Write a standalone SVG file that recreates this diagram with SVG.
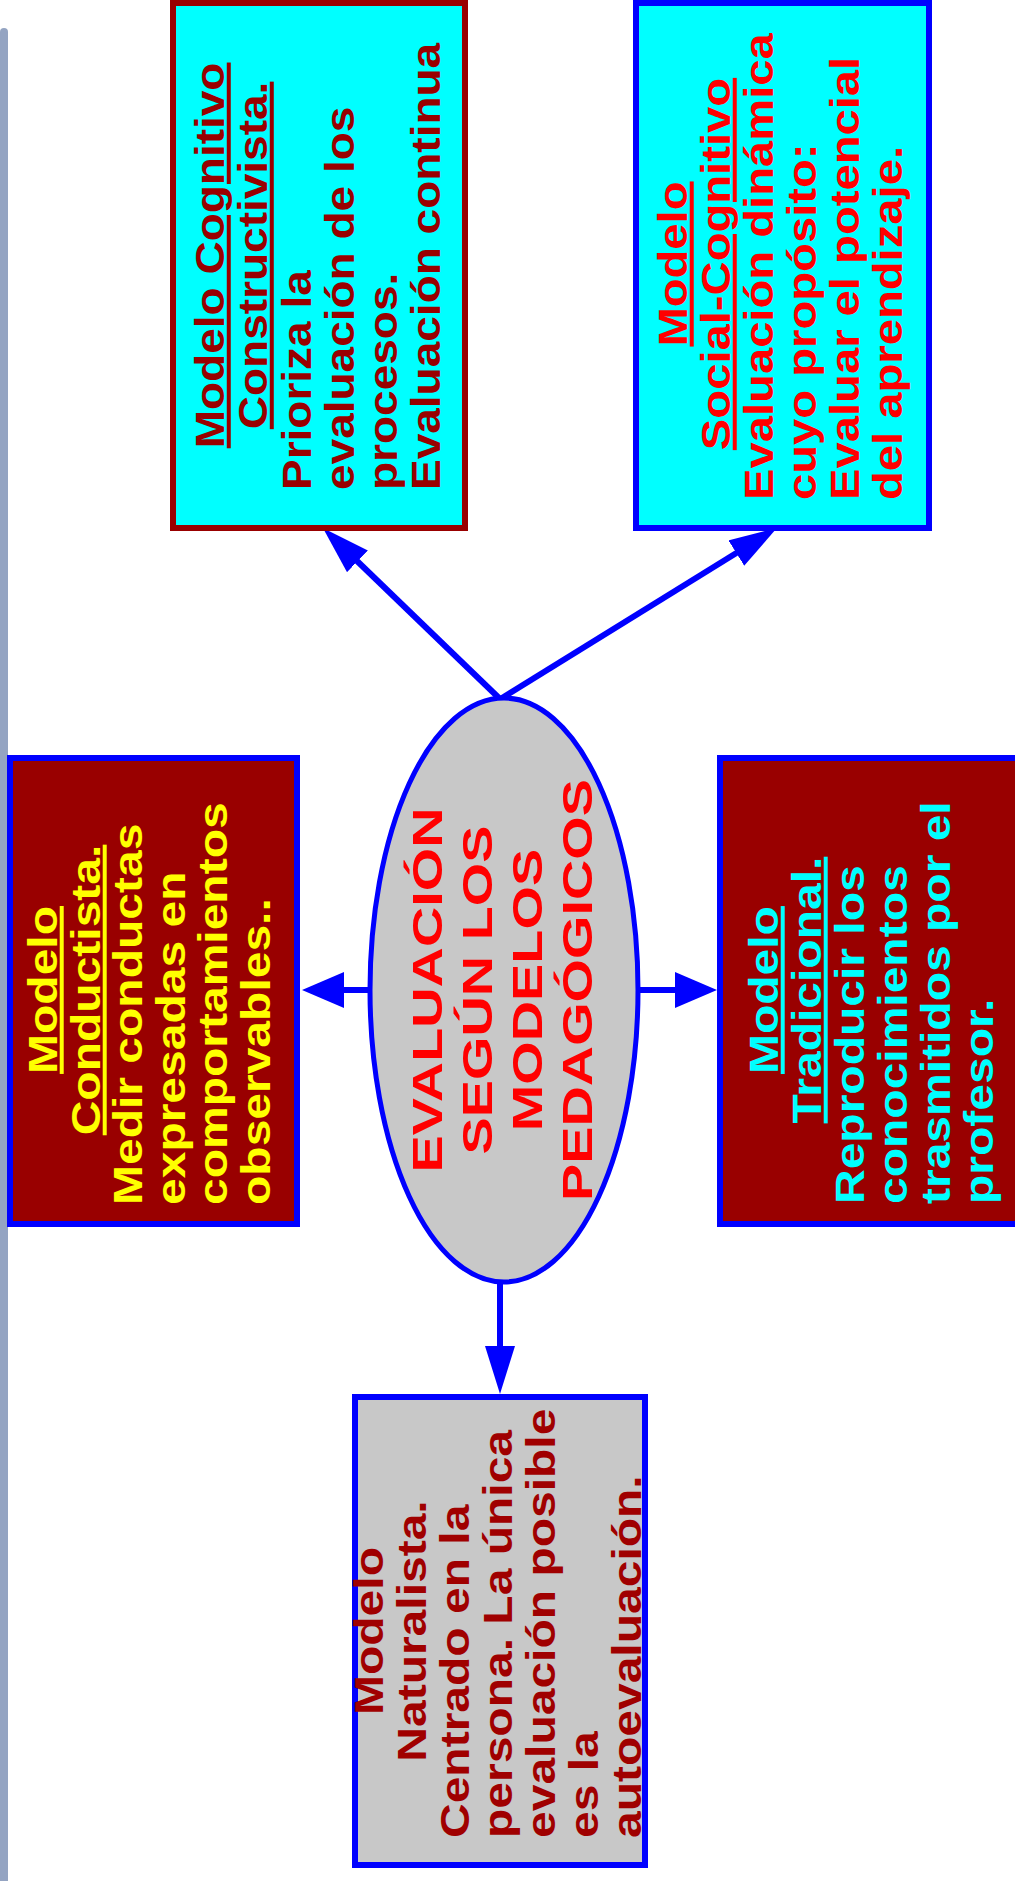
<svg xmlns="http://www.w3.org/2000/svg" width="1015" height="1881" viewBox="0 0 1015 1881">
<style>
.t{font-family:"Liberation Sans",Arial,Helvetica,sans-serif;font-weight:bold;font-size:40px}
.big{font-size:42px}
.u{text-decoration:underline}
.c{text-anchor:middle}
.box{stroke-width:6}
.con{stroke:#0000ff;stroke-width:6;fill:none}
</style>
<defs>
<marker id="ah" viewBox="0 0 42 36" markerWidth="42" markerHeight="36" refX="2" refY="18" orient="auto" markerUnits="userSpaceOnUse"><path d="M0,0 L42,18 L0,36 z" fill="#0000ff"/></marker>
<marker id="ahn" viewBox="0 0 48 30" markerWidth="48" markerHeight="30" refX="2" refY="15" orient="auto" markerUnits="userSpaceOnUse"><path d="M0,0 L48,15 L0,30 z" fill="#0000ff"/></marker>
</defs>
<rect width="1015" height="1881" fill="#ffffff"/>
<rect id="sidebar" x="0" y="28" width="8" height="1860" rx="4" fill="#94a4c2"/>

<g id="connectors">
<line class="con" x1="370" y1="990" x2="342" y2="990" marker-end="url(#ah)"/>
<line class="con" x1="638" y1="990" x2="677" y2="990" marker-end="url(#ah)"/>
<line class="con" x1="500" y1="1282" x2="500" y2="1348" marker-end="url(#ahn)"/>
<line class="con" x1="499" y1="698" x2="356" y2="560" marker-end="url(#ahn)"/>
<line class="con" x1="502" y1="698" x2="738" y2="552" marker-end="url(#ahn)"/>
</g>

<g id="cognitivo">
<rect class="box" x="173" y="3" width="292" height="525" fill="#00ffff" stroke="#990000"/>
<g class="t" fill="#990000" transform="translate(0,490) rotate(-90) scale(1.15,1)">
<text class="c u" x="204" y="224">Modelo Cognitivo</text>
<text class="c u" x="204" y="267">Constructivista.</text>
<text x="0" y="311">Prioriza la</text>
<text x="0" y="354">evaluación de los</text>
<text x="0" y="397">procesos.</text>
<text x="0" y="440">Evaluación continua</text>
</g>
</g>

<g id="social">
<rect class="box" x="636" y="3" width="293" height="525" fill="#00ffff" stroke="#0000ff"/>
<g class="t" fill="#ff0000" transform="translate(0,500) rotate(-90) scale(1.18,1)">
<text class="c u" x="200" y="687">Modelo</text>
<text class="c u" x="200" y="730">Social-Cognitivo</text>
<text x="0" y="773">Evaluación dinámica</text>
<text x="0" y="816">cuyo propósito:</text>
<text x="0" y="859">Evaluar el potencial</text>
<text x="0" y="902">del aprendizaje.</text>
</g>
</g>

<g id="conductista">
<rect class="box" x="10" y="758" width="287" height="466" fill="#990000" stroke="#0000ff"/>
<g class="t" fill="#ffff00" transform="translate(0,1205) rotate(-90) scale(1.2,1)">
<text class="c u" x="179.2" y="57">Modelo</text>
<text class="c u" x="179.2" y="100">Conductista.</text>
<text x="0" y="142">Medir conductas</text>
<text x="0" y="185">expresadas en</text>
<text x="0" y="227">comportamientos</text>
<text x="0" y="270">observables..</text>
</g>
</g>

<g id="tradicional">
<rect class="box" x="720" y="758" width="300" height="466" fill="#990000" stroke="#0000ff"/>
<g class="t" fill="#00ffff" transform="translate(0,1204) rotate(-90) scale(1.2,1)">
<text class="c u" x="178.3" y="778">Modelo</text>
<text class="c u" x="178.3" y="821">Tradicional.</text>
<text x="0" y="864">Reproducir los</text>
<text x="0" y="907">conocimientos</text>
<text x="0" y="950">trasmitidos por el</text>
<text x="0" y="993">profesor.</text>
</g>
</g>

<g id="naturalista">
<rect class="box" x="355" y="1397" width="290" height="468" fill="#c8c8c8" stroke="#0000ff"/>
<g class="t" fill="#a00000" transform="translate(0,1838) rotate(-90) scale(1.2,1)">
<text class="c" x="172.5" y="383">Modelo</text>
<text class="c" x="172.5" y="426">Naturalista.</text>
<text x="0" y="469">Centrado en la</text>
<text x="0" y="512">persona. La única</text>
<text x="0" y="555">evaluación posible</text>
<text x="0" y="598">es la</text>
<text x="0" y="641">autoevaluación.</text>
</g>
</g>

<g id="central">
<ellipse cx="504" cy="990" rx="134" ry="292" fill="#c8c8c8" stroke="#0000ff" stroke-width="5"/>
<g class="t big c" fill="#ff0000" transform="translate(0,990) rotate(-90) scale(1.33,1)">
<text x="0" y="442">EVALUACIÓN</text>
<text x="0" y="492">SEGÚN LOS</text>
<text x="0" y="542">MODELOS</text>
<text x="0" y="592">PEDAGÓGICOS</text>
</g>
</g>
</svg>
